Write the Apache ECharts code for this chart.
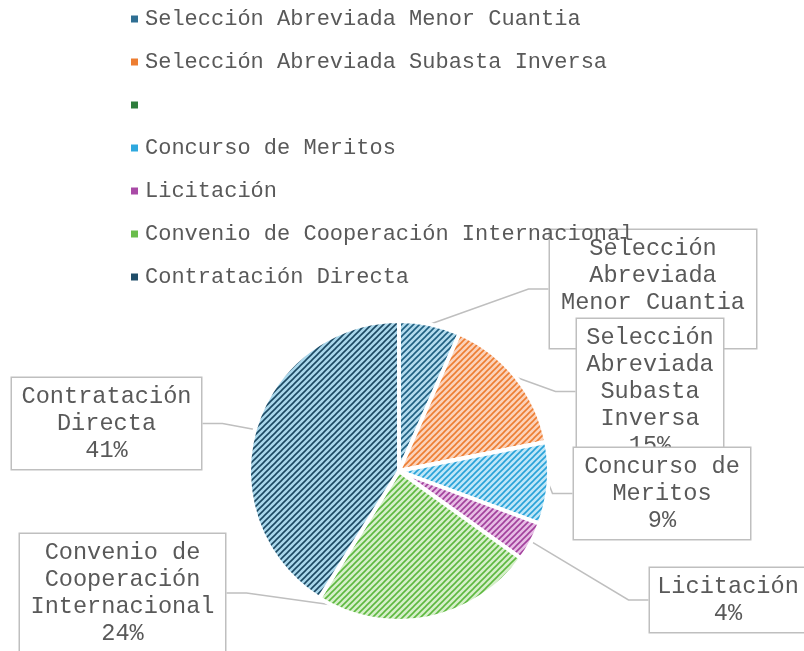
<!DOCTYPE html>
<html>
<head>
<meta charset="utf-8">
<script src="https://cdn.jsdelivr.net/npm/echarts@6/dist/echarts.min.js"></script>
<style>
html,body{margin:0;padding:0;background:#fff;}
#chart{width:804px;height:651px;}
</style>
</head>
<body>
<div id="chart"></div>
<script>
// ---- data ----
const categories = [
  'Selección Abreviada Menor Cuantia',
  'Selección Abreviada Subasta Inversa',
  ' ',
  'Concurso de Meritos',
  'Licitación',
  'Convenio de Cooperación Internacional',
  'Contratación Directa'
];
const values = [6.6, 15.3, 0, 8.8, 4.2, 24.0, 41.1];

// ---- styles ----
const markerColors = ['#2f6f93', '#ed7d31', '#2e7d3c', '#2ea8de', '#a94aa6', '#6abd4c', '#1f4d69'];
const sliceBg = ['#b3dcee', '#fbd2ba', '#c4e6c4', '#bfe6f7', '#e6bce4', '#d6efca', '#a9d7eb'];
const sliceFg = ['#1f5f80', '#ed7d31', '#2e7d3c', '#28a2d8', '#a23f9c', '#5db83f', '#1b4862'];

function makePattern(bg, fg) {
  const c = document.createElement('canvas');
  const s = 6;
  c.width = s; c.height = s;
  const g = c.getContext('2d');
  g.fillStyle = bg;
  g.fillRect(0, 0, s, s);
  g.strokeStyle = fg;
  g.lineWidth = 1.6;
  g.beginPath();
  g.moveTo(-1, s + 1); g.lineTo(s + 1, -1);
  g.moveTo(-1, 1); g.lineTo(1, -1);
  g.moveTo(s - 1, s + 1); g.lineTo(s + 1, s - 1);
  g.stroke();
  return { image: c, repeat: 'repeat' };
}

// label box layout (center x, top y, box width, max chars per line)
const labelBoxes = [
  { x: 653, y: 230, w: 206, n: 13 },
  { x: 650, y: 319, w: 146, n: 9 },
  null,
  { x: 662, y: 448, w: 176, n: 11 },
  { x: 728, y: 568, w: 156, n: 10 },
  { x: 122.5, y: 534, w: 205, n: 13 },
  { x: 106.5, y: 378, w: 189, n: 12 }
];

function wrapWords(text, maxChars) {
  const words = text.split(' ');
  const lines = [];
  let cur = '';
  words.forEach(w => {
    if (!cur) cur = w;
    else if ((cur + ' ' + w).length <= maxChars) cur += ' ' + w;
    else { lines.push(cur); cur = w; }
  });
  if (cur) lines.push(cur);
  return lines.join('\n');
}

const FONT = "'Liberation Mono', 'Courier New', monospace";

const seriesData = categories.map((name, i) => {
  const item = {
    name: name,
    value: values[i],
    itemStyle: { color: makePattern(sliceBg[i], sliceFg[i]) }
  };
  if (labelBoxes[i]) {
    item.label = { width: labelBoxes[i].w };
  } else {
    item.label = { show: false };
    item.labelLine = { show: false };
  }
  return item;
});

const chart = echarts.init(document.getElementById('chart'), null, { renderer: 'canvas' });
chart.setOption({
  backgroundColor: '#ffffff',
  animation: false,
  legend: {
    orient: 'vertical',
    left: 124,
    top: 2,
    itemWidth: 9,
    itemHeight: 9,
    itemGap: 19,
    icon: 'rect',
    selectedMode: false,
    textStyle: { fontFamily: FONT, fontSize: 22, lineHeight: 24, color: '#595959', padding: [0, 0, 0, 1] },
    data: categories.map((n, i) => ({ name: n, itemStyle: { color: markerColors[i] } }))
  },
  series: [{
    type: 'pie',
    center: [399, 471],
    radius: 150,
    startAngle: 90,
    clockwise: true,
    data: seriesData,
    itemStyle: { borderColor: '#ffffff', borderWidth: 4 },
    label: {
      show: true,
      formatter: function (p) {
        const b = labelBoxes[p.dataIndex];
        if (!b) return '';
        return wrapWords(p.name, b.n) + '\n' + Math.round(p.percent) + '%';
      },
      fontFamily: FONT,
      fontSize: 23.6,
      lineHeight: 27,
      color: '#595959',
      align: 'center',
      overflow: 'none',
      backgroundColor: '#ffffff',
      borderColor: '#bfbfbf',
      borderWidth: 1.5,
      padding: [5, 0]
    },
    labelLine: {
      show: true,
      length: 20,
      length2: 20,
      lineStyle: { color: '#bfbfbf', width: 1.5 }
    },
    labelLayout: function (params) {
      const b = labelBoxes[params.dataIndex];
      if (!b) return {};
      return { x: b.x, y: b.y, align: 'center', verticalAlign: 'top' };
    }
  }]
});
</script>
</body>
</html>
